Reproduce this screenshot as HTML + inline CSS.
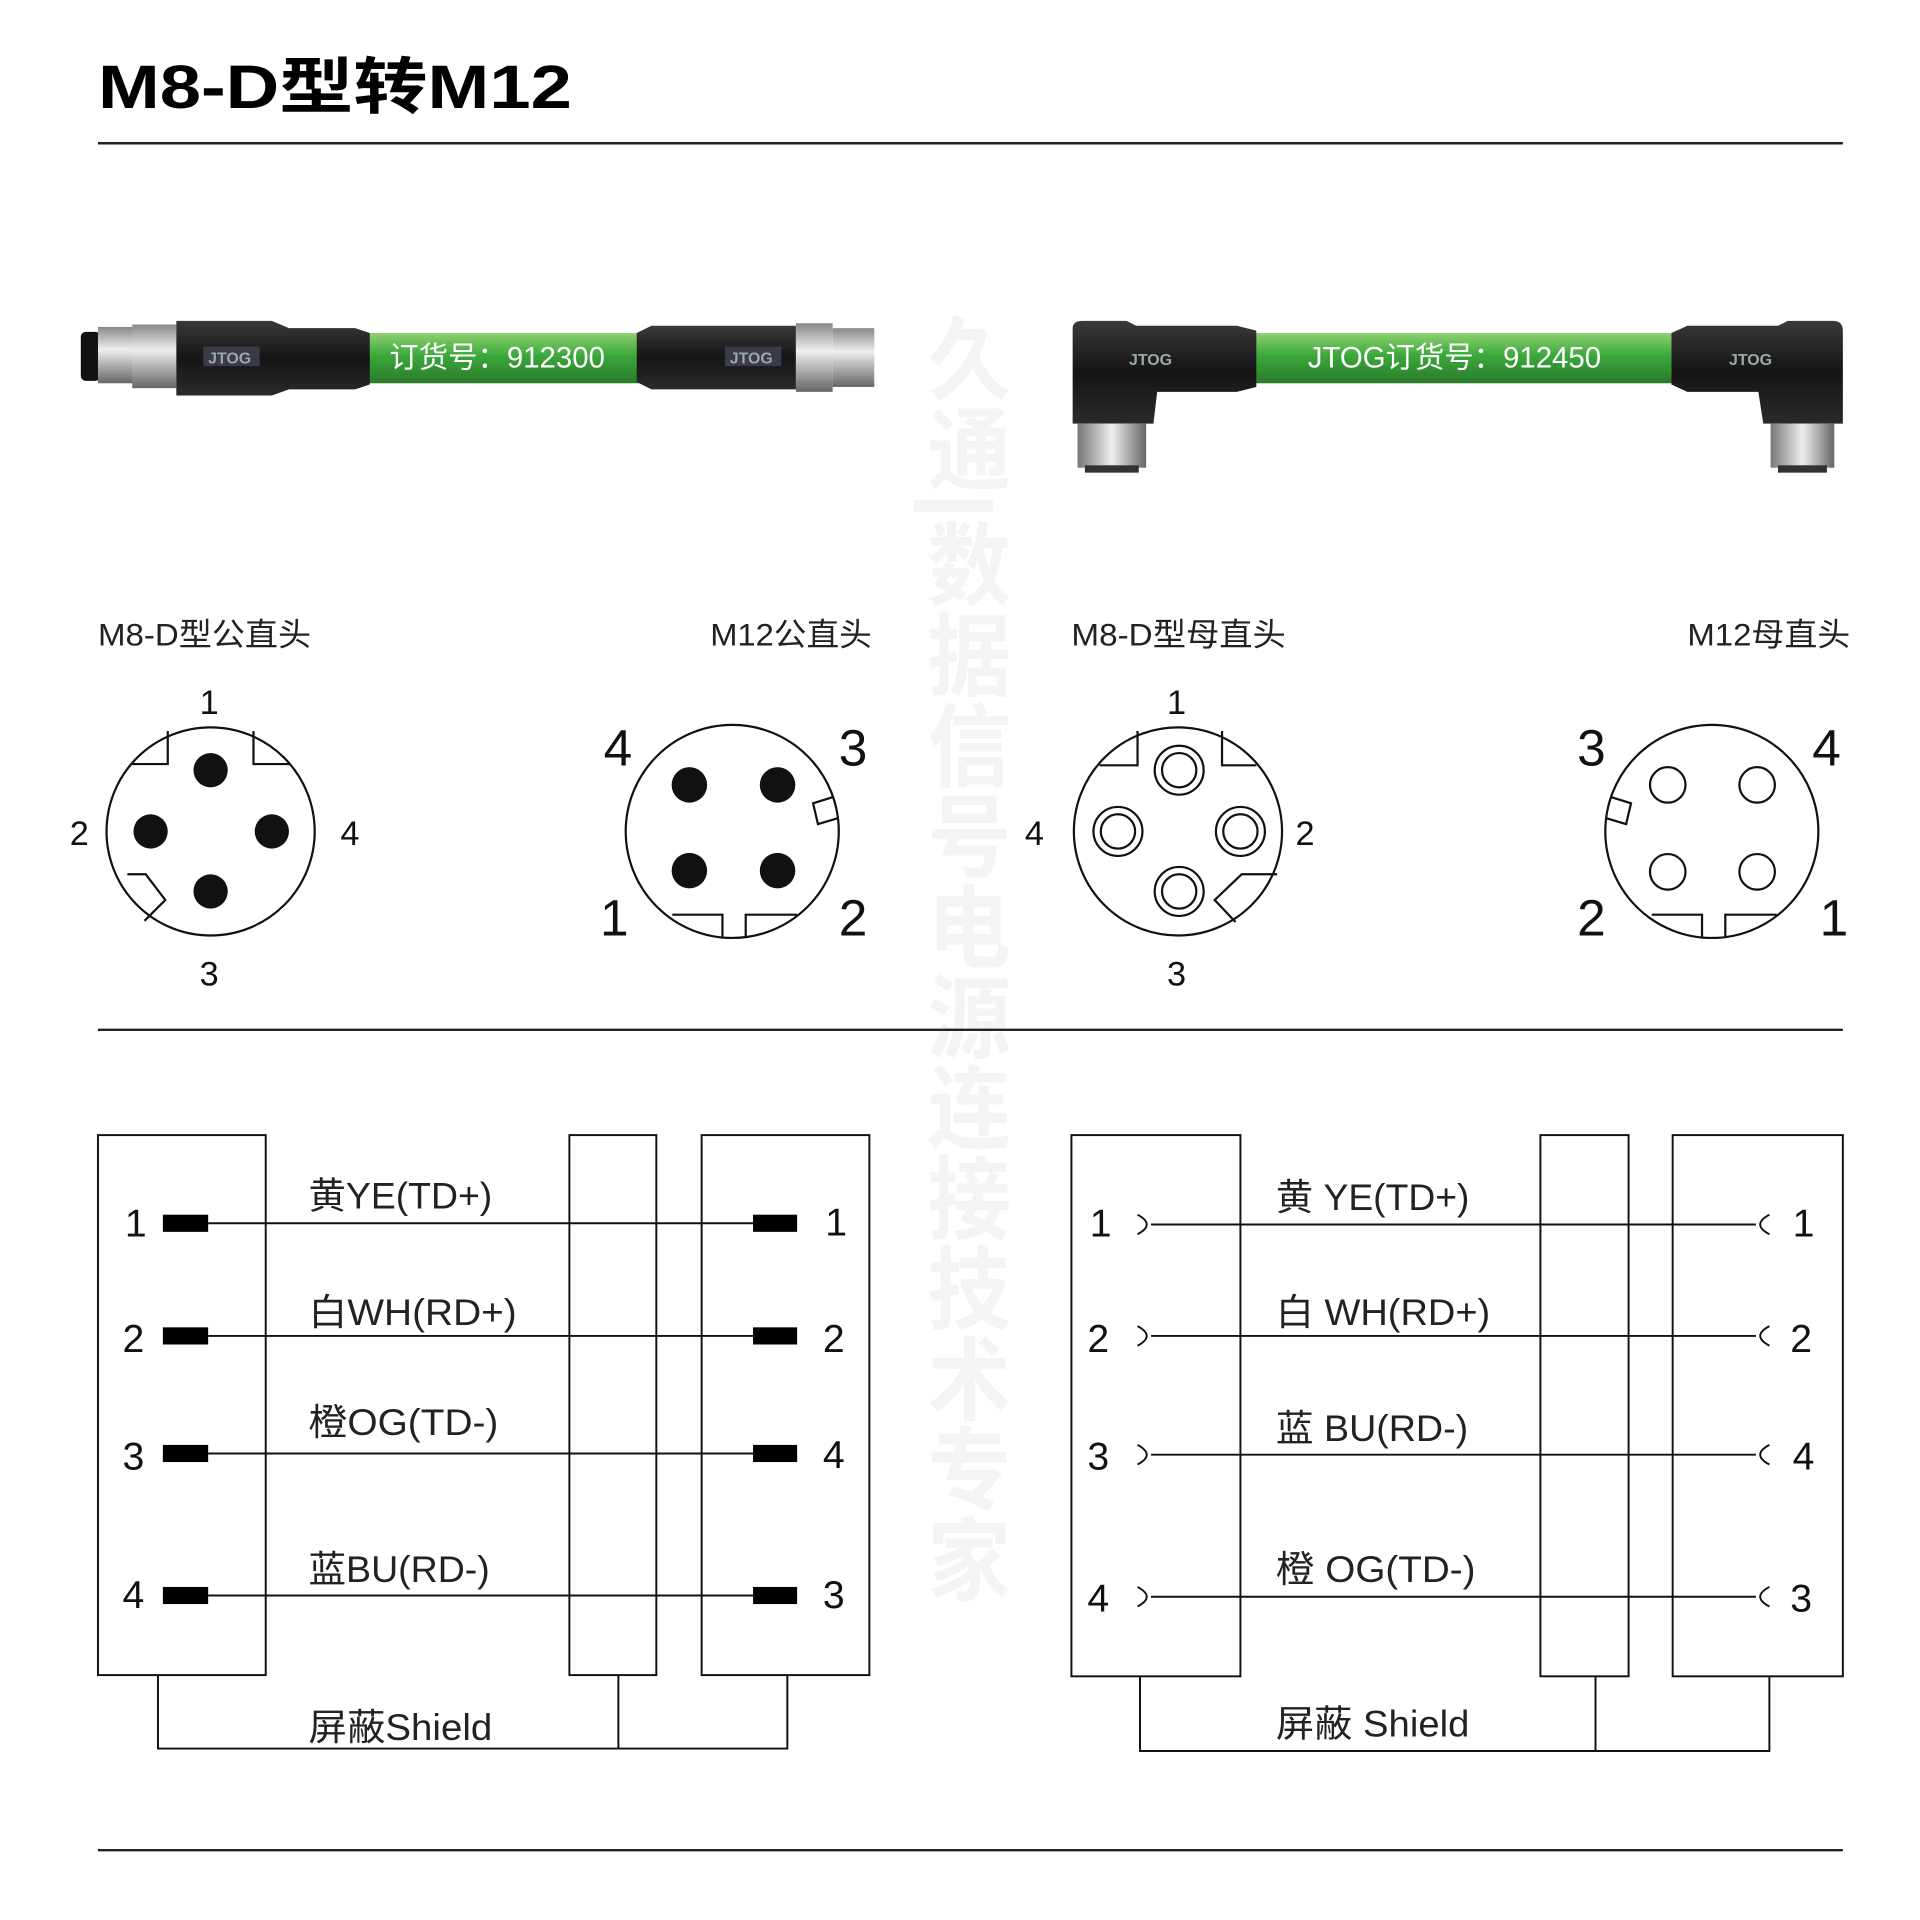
<!DOCTYPE html>
<html><head><meta charset="utf-8">
<style>html,body{margin:0;padding:0;background:#fff}svg{display:block}
text{font-family:"Liberation Sans","Noto Sans CJK SC",sans-serif}</style></head>
<body>
<svg width="1920" height="1920" viewBox="0 0 1568 1568" xmlns="http://www.w3.org/2000/svg">
<defs>
<linearGradient id="g" x1="0" y1="0" x2="0" y2="1">
<stop offset="0" stop-color="#8fd070"/><stop offset="0.45" stop-color="#3aa83a"/><stop offset="1" stop-color="#2b7a2b"/></linearGradient>
<linearGradient id="k" x1="0" y1="0" x2="0" y2="1">
<stop offset="0" stop-color="#3a3a3a"/><stop offset="0.5" stop-color="#151515"/><stop offset="1" stop-color="#2a2a2a"/></linearGradient>
<linearGradient id="m" x1="0" y1="0" x2="0" y2="1">
<stop offset="0" stop-color="#888"/><stop offset="0.4" stop-color="#eee"/><stop offset="1" stop-color="#666"/></linearGradient>
<linearGradient id="mv" x1="0" y1="0" x2="1" y2="0">
<stop offset="0" stop-color="#777"/><stop offset="0.5" stop-color="#eee"/><stop offset="1" stop-color="#666"/></linearGradient>
</defs>

<text x="80" y="88" font-size="50" font-weight="bold" textLength="387" lengthAdjust="spacingAndGlyphs">M8-D型转M12</text>
<line x1="80" y1="117" x2="1505" y2="117" stroke="#222" stroke-width="2"/>

<text x="785" y="255" font-size="68" font-weight="bold" fill="#f4f4f4" writing-mode="tb" textLength="1055" lengthAdjust="spacingAndGlyphs">久通|数据信号电源连接技术专家</text>

<rect x="300" y="272" width="222" height="41" fill="url(#g)"/>
<text x="318" y="300" font-size="24" fill="#fff">订货号：912300</text>
<rect x="66" y="271" width="16" height="40" rx="4" fill="#111"/>
<rect x="80" y="267" width="30" height="46" fill="url(#m)"/>
<rect x="108" y="265" width="36" height="52" fill="url(#m)"/>
<path d="M144 262 H222 L236 268 H290 L302 272 V314 L290 318 H236 L222 323 H144 Z" fill="url(#k)"/>
<rect x="166" y="283" width="46" height="16" fill="#3a3a48"/>
<text x="170" y="297" font-size="13" font-weight="bold" fill="#9aa">JTOG</text>
<path d="M520 272 L532 266 H650 V318 H532 L520 312 Z" fill="url(#k)"/>
<rect x="592" y="283" width="46" height="16" fill="#3a3a48"/>
<text x="596" y="297" font-size="13" font-weight="bold" fill="#9aa">JTOG</text>
<rect x="650" y="264" width="30" height="56" fill="url(#m)"/>
<rect x="680" y="268" width="34" height="48" fill="url(#m)"/>

<rect x="1025" y="272" width="340" height="41" fill="url(#g)"/>
<text x="1068" y="300" font-size="24" fill="#fff">JTOG订货号：912450</text>
<path d="M876 268 Q876 262 884 262 H920 L928 266 H1010 L1026 270 V316 L1010 320 H945 L942 346 H876 Z" fill="url(#k)"/>
<text x="922" y="298" font-size="13" font-weight="bold" fill="#9aa">JTOG</text>
<rect x="880" y="346" width="56" height="36" fill="url(#mv)"/>
<rect x="886" y="380" width="44" height="6" fill="#333"/>
<path d="M1365 272 L1378 266 H1452 L1460 262 H1497 Q1505 262 1505 270 V346 H1440 L1436 320 H1378 L1365 314 Z" fill="url(#k)"/>
<text x="1412" y="298" font-size="13" font-weight="bold" fill="#9aa">JTOG</text>
<rect x="1446" y="346" width="52" height="36" fill="url(#mv)"/>
<rect x="1452" y="380" width="40" height="6" fill="#333"/>

<g font-size="26" fill="#222">
<text x="80" y="527" textLength="174" lengthAdjust="spacingAndGlyphs">M8-D型公直头</text>
<text x="580" y="527" textLength="132" lengthAdjust="spacingAndGlyphs">M12公直头</text>
<text x="875" y="527" textLength="175" lengthAdjust="spacingAndGlyphs">M8-D型母直头</text>
<text x="1378" y="527" textLength="133" lengthAdjust="spacingAndGlyphs">M12母直头</text>
</g>

<g fill="none" stroke="#111" stroke-width="1.8">
<circle cx="172" cy="679" r="85"/>
<path d="M108 624 H137 V597"/>
<path d="M236 624 H207 V597"/>
<path d="M104 714 H119 L135 735 L118 752"/>
<circle cx="598" cy="679" r="87"/>
<path d="M549 747 H590 V765 M609 765 V747 H651"/>
<path d="M680 651 L664 656 L668 673 L685 668"/>
<circle cx="962" cy="679" r="85"/>
<path d="M898 625 H929 V597"/>
<path d="M1026 625 H998 V597"/>
<path d="M1043 714 H1014 L992 735 L1009 753"/>
<circle cx="963" cy="629" r="20"/><circle cx="963" cy="629" r="14"/>
<circle cx="913" cy="679" r="20"/><circle cx="913" cy="679" r="14"/>
<circle cx="1013" cy="679" r="20"/><circle cx="1013" cy="679" r="14"/>
<circle cx="963" cy="728" r="20"/><circle cx="963" cy="728" r="14"/>
<circle cx="1398" cy="679" r="87"/>
<path d="M1349 747 H1390 V765 M1409 765 V747 H1451"/>
<path d="M1316 651 L1332 656 L1328 673 L1311 668"/>
<circle cx="1362" cy="641" r="14.5"/><circle cx="1435" cy="641" r="14.5"/>
<circle cx="1362" cy="712" r="14.5"/><circle cx="1435" cy="712" r="14.5"/>
</g>
<g fill="#111">
<circle cx="172" cy="629" r="14"/><circle cx="123" cy="679" r="14"/>
<circle cx="222" cy="679" r="14"/><circle cx="172" cy="728" r="14"/>
<circle cx="563" cy="641" r="14.5"/><circle cx="635" cy="641" r="14.5"/>
<circle cx="563" cy="711" r="14.5"/><circle cx="635" cy="711" r="14.5"/>
</g>
<g font-size="28" fill="#111">
<text x="163" y="583">1</text><text x="57" y="690">2</text><text x="278" y="690">4</text><text x="163" y="805">3</text>
<text x="953" y="583">1</text><text x="837" y="690">4</text><text x="1058" y="690">2</text><text x="953" y="805">3</text>
</g>
<g font-size="42" fill="#111">
<text x="493" y="625">4</text><text x="685" y="625">3</text><text x="490" y="764">1</text><text x="685" y="764">2</text>
<text x="1288" y="625">3</text><text x="1480" y="625">4</text><text x="1288" y="764">2</text><text x="1486" y="764">1</text>
</g>

<line x1="80" y1="841" x2="1505" y2="841" stroke="#222" stroke-width="2"/>

<g fill="none" stroke="#111" stroke-width="1.6">
<rect x="80" y="927" width="137" height="441"/>
<rect x="465" y="927" width="71" height="441"/>
<rect x="573" y="927" width="137" height="441"/>
<path d="M129 1368 V1428 H643 V1368 M505 1368 V1428"/>
<path d="M170 999 H615 M170 1091 H615 M170 1187 H615 M170 1303 H615"/>
</g>
<g fill="#000">
<rect x="133" y="992" width="37" height="14"/><rect x="133" y="1084" width="37" height="14"/>
<rect x="133" y="1180" width="37" height="14"/><rect x="133" y="1296" width="37" height="14"/>
<rect x="615" y="992" width="36" height="14"/><rect x="615" y="1084" width="36" height="14"/>
<rect x="615" y="1180" width="36" height="14"/><rect x="615" y="1296" width="36" height="14"/>
</g>
<g font-size="32" fill="#111">
<text x="102" y="1010">1</text><text x="100" y="1104">2</text><text x="100" y="1200">3</text><text x="100" y="1313">4</text>
<text x="674" y="1009">1</text><text x="672" y="1104">2</text><text x="672" y="1199">4</text><text x="672" y="1313">3</text>
</g>
<g font-size="30" fill="#222">
<text x="252" y="987" textLength="150" lengthAdjust="spacingAndGlyphs">黄YE(TD+)</text>
<text x="252" y="1082" textLength="170" lengthAdjust="spacingAndGlyphs">白WH(RD+)</text>
<text x="252" y="1172" textLength="155" lengthAdjust="spacingAndGlyphs">橙OG(TD-)</text>
<text x="252" y="1292" textLength="148" lengthAdjust="spacingAndGlyphs">蓝BU(RD-)</text>
<text x="252" y="1421" textLength="150" lengthAdjust="spacingAndGlyphs">屏蔽Shield</text>
</g>

<g fill="none" stroke="#111" stroke-width="1.6">
<rect x="875" y="927" width="138" height="442"/>
<rect x="1258" y="927" width="72" height="442"/>
<rect x="1366" y="927" width="139" height="442"/>
<path d="M931 1369 V1430 H1445 V1369 M1303 1369 V1430"/>
<path d="M940 1000 H1434 M940 1091 H1434 M940 1188 H1434 M940 1304 H1434"/>
<path d="M929 992 Q944 1000 929 1008 M929 1083 Q944 1091 929 1099 M929 1180 Q944 1188 929 1196 M929 1296 Q944 1304 929 1312"/>
<path d="M1445 992 Q1430 1000 1445 1008 M1445 1083 Q1430 1091 1445 1099 M1445 1180 Q1430 1188 1445 1196 M1445 1296 Q1430 1304 1445 1312"/>
</g>
<g font-size="32" fill="#111">
<text x="890" y="1010">1</text><text x="888" y="1104">2</text><text x="888" y="1200">3</text><text x="888" y="1316">4</text>
<text x="1464" y="1010">1</text><text x="1462" y="1104">2</text><text x="1464" y="1200">4</text><text x="1462" y="1316">3</text>
</g>
<g font-size="30" fill="#222">
<text x="1042" y="988" textLength="158" lengthAdjust="spacingAndGlyphs">黄 YE(TD+)</text>
<text x="1042" y="1082" textLength="175" lengthAdjust="spacingAndGlyphs">白 WH(RD+)</text>
<text x="1042" y="1177" textLength="157" lengthAdjust="spacingAndGlyphs">蓝 BU(RD-)</text>
<text x="1042" y="1292" textLength="163" lengthAdjust="spacingAndGlyphs">橙 OG(TD-)</text>
<text x="1042" y="1418" textLength="158" lengthAdjust="spacingAndGlyphs">屏蔽 Shield</text>
</g>

<line x1="80" y1="1511" x2="1505" y2="1511" stroke="#222" stroke-width="2"/>
</svg>
</body></html>
